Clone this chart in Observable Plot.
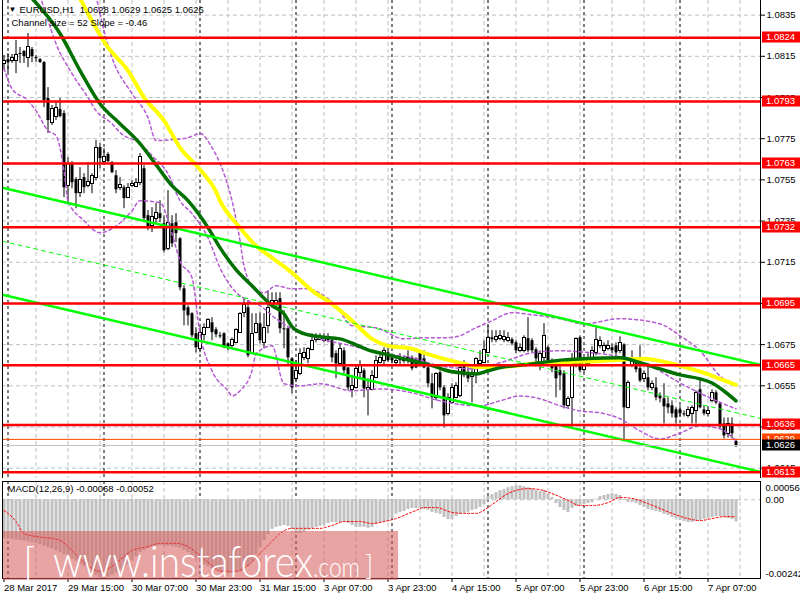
<!DOCTYPE html>
<html>
<head>
<meta charset="utf-8">
<script src="https://cdn.jsdelivr.net/npm/d3@7"></script>
<script src="https://cdn.jsdelivr.net/npm/@observablehq/plot@0.6"></script>
<style>
  html, body { margin: 0; padding: 0; background: #fff; }
  #chart { position: relative; width: 800px; height: 600px; overflow: hidden; font-family: "Liberation Sans", Arial, sans-serif; }
  #main, #macd, #brand { position: absolute; left: 0; }
  #main { top: 0; }
  #macd { top: 478px; }
  #brand { top: 0; pointer-events: none; }
</style>
</head>
<body>
<div id="chart">
  <div id="main"></div>
  <div id="macd"></div>
  <svg id="brand" width="800" height="600">
    <defs><clipPath id="brandClip"><rect x="3" y="531" width="395" height="49"></rect></clipPath></defs>
    <rect x="3" y="531" width="395" height="49" fill="rgb(214,88,88)" fill-opacity="0.55"></rect>
    <g clip-path="url(#brandClip)" fill="#fff" font-family="Lato, 'Open Sans', sans-serif" font-weight="300">
      <text x="23" y="578" font-size="42">[</text>
      <text x="53" y="577" font-size="44" textLength="260" lengthAdjust="spacingAndGlyphs">www.instaforex</text>
      <text x="313" y="577" font-size="27" textLength="47" lengthAdjust="spacingAndGlyphs">.com</text>
      <text x="365" y="575" font-size="28">]</text>
    </g>
  </svg>
</div>
<script>
// EURUSD H1 candles, 28 Mar 2017 23:00 to 7 Apr 2017 14:00 (bar 0 .. 183)
const candleOpen = [
1.08115,1.08134,1.08129,1.08129,1.08164,1.08173,1.08144,1.08183,1.08144,1.08134,
1.08120,1.07945,1.07828,1.07857,1.07891,1.07872,1.07522,1.07629,1.07551,1.07488,
1.07561,1.07522,1.07532,1.07561,1.07707,1.07639,1.07673,1.07634,1.07570,1.07512,
1.07512,1.07464,1.07522,1.07517,1.07536,1.07604,1.07376,1.07328,1.07362,1.07386,
1.07337,1.07216,1.07337,1.07342,1.07264,1.07021,1.06929,1.06900,1.06803,1.06730,
1.06798,1.06832,1.06856,1.06822,1.06793,1.06803,1.06754,1.06744,1.06759,1.06808,
1.06905,1.06929,1.06706,1.06808,1.06851,1.06759,1.06842,1.06944,1.06949,1.06973,
1.06827,1.06827,1.06681,1.06584,1.06608,1.06686,1.06681,1.06725,1.06774,1.06774,
1.06769,1.06788,1.06769,1.06706,1.06657,1.06720,1.06637,1.06531,1.06540,1.06613,
1.06623,1.06531,1.06531,1.06589,1.06662,1.06672,1.06710,1.06686,1.06662,1.06686,
1.06672,1.06672,1.06686,1.06681,1.06710,1.06681,1.06637,1.06560,1.06492,1.06613,
1.06540,1.06414,1.06467,1.06492,1.06501,1.06647,1.06613,1.06594,1.06608,1.06657,
1.06662,1.06710,1.06783,1.06774,1.06779,1.06774,1.06769,1.06774,1.06759,1.06720,
1.06720,1.06779,1.06769,1.06725,1.06647,1.06686,1.06735,1.06662,1.06657,1.06623,
1.06608,1.06453,1.06492,1.06657,1.06783,1.06628,1.06657,1.06681,1.06710,1.06744,
1.06720,1.06730,1.06735,1.06744,1.06720,1.06749,1.06443,1.06647,1.06657,1.06633,
1.06584,1.06589,1.06540,1.06540,1.06501,1.06487,1.06462,1.06453,1.06433,1.06433,
1.06414,1.06404,1.06414,1.06428,1.06531,1.06433,1.06414,1.06477,1.06516,1.06462,
1.06365,1.06317,1.06365,1.0628];
const candleHigh = [
1.08154,1.08163,1.08159,1.08227,1.08193,1.08178,1.08261,1.08193,1.08154,1.08139,
1.08125,1.07998,1.07911,1.07925,1.07945,1.07886,1.07658,1.07639,1.07561,1.07609,
1.07580,1.07634,1.07580,1.07741,1.07726,1.07702,1.07682,1.07639,1.07595,1.07561,
1.07522,1.07532,1.07546,1.07556,1.07678,1.07619,1.07401,1.07415,1.07435,1.07449,
1.07376,1.07498,1.07376,1.07386,1.07269,1.07036,1.06939,1.06905,1.06832,1.06832,
1.06851,1.06876,1.06881,1.06832,1.06808,1.06808,1.06759,1.06783,1.06827,1.06905,
1.06973,1.06963,1.06900,1.06900,1.06905,1.06900,1.07011,1.07002,1.07002,1.07002,
1.06915,1.06832,1.06686,1.06672,1.06730,1.06735,1.06735,1.06803,1.06803,1.06803,
1.06803,1.06803,1.06779,1.06720,1.06754,1.06735,1.06637,1.06599,1.06647,1.06672,
1.06633,1.06584,1.06623,1.06696,1.06706,1.06735,1.06735,1.06706,1.06686,1.06706,
1.06696,1.06720,1.06696,1.06686,1.06720,1.06720,1.06647,1.06608,1.06613,1.06623,
1.06550,1.06511,1.06560,1.06565,1.06647,1.06672,1.06647,1.06647,1.06686,1.06720,
1.06769,1.06842,1.06818,1.06818,1.06818,1.06818,1.06808,1.06783,1.06769,1.06754,
1.06793,1.06881,1.06779,1.06735,1.06720,1.06852,1.06744,1.06681,1.06672,1.06647,
1.06623,1.06497,1.06706,1.06783,1.06793,1.06681,1.06706,1.06740,1.06832,1.06788,
1.06759,1.06769,1.06754,1.06759,1.06788,1.06754,1.06574,1.06720,1.06672,1.06744,
1.06623,1.06657,1.06574,1.06589,1.06516,1.06560,1.06492,1.06477,1.06443,1.06453,
1.06428,1.06448,1.06453,1.06526,1.06589,1.06453,1.06448,1.06531,1.06526,1.06467,
1.06394,1.06394,1.06394,1.0629];
const candleLow = [
1.08081,1.08071,1.08115,1.08066,1.08115,1.08115,1.08095,1.08120,1.08120,1.08115,
1.07901,1.07775,1.07814,1.07838,1.07852,1.07464,1.07435,1.07507,1.07410,1.07464,
1.07483,1.07512,1.07483,1.07546,1.07604,1.07634,1.07634,1.07580,1.07483,1.07498,
1.07410,1.07459,1.07512,1.07512,1.07522,1.07342,1.07303,1.07294,1.07337,1.07342,
1.07196,1.07206,1.07221,1.07245,1.07011,1.06841,1.06841,1.06783,1.06710,1.06710,
1.06769,1.06827,1.06769,1.06783,1.06779,1.06730,1.06720,1.06735,1.06754,1.06808,
1.06881,1.06686,1.06706,1.06803,1.06754,1.06730,1.06803,1.06929,1.06929,1.06803,
1.06730,1.06647,1.06511,1.06565,1.06599,1.06672,1.06657,1.06720,1.06759,1.06769,
1.06759,1.06759,1.06662,1.06584,1.06647,1.06608,1.06526,1.06492,1.06535,1.06589,
1.06492,1.06404,1.06526,1.06584,1.06657,1.06647,1.06662,1.06657,1.06647,1.06647,
1.06657,1.06657,1.06623,1.06633,1.06647,1.06633,1.06540,1.06438,1.06477,1.06526,
1.06346,1.06404,1.06462,1.06487,1.06492,1.06589,1.06565,1.06467,1.06560,1.06657,
1.06657,1.06706,1.06759,1.06759,1.06769,1.06759,1.06759,1.06744,1.06706,1.06710,
1.06710,1.06710,1.06710,1.06647,1.06623,1.06657,1.06647,1.06613,1.06492,1.06526,
1.06438,1.06438,1.06341,1.06637,1.06613,1.06613,1.06642,1.06672,1.06696,1.06730,
1.06706,1.06720,1.06706,1.06696,1.06706,1.06278,1.06438,1.06638,1.06613,1.06565,
1.06565,1.06526,1.06526,1.06477,1.06467,1.06365,1.06414,1.06394,1.06365,1.06399,
1.06399,1.06394,1.06365,1.06365,1.06438,1.06404,1.06399,1.06467,1.06458,1.06341,
1.06292,1.06297,1.06292,1.0625];
const candleClose = [
1.08125,1.08120,1.08144,1.08154,1.08159,1.08149,1.08193,1.08149,1.08139,1.08120,
1.07935,1.07838,1.07896,1.07901,1.07857,1.07512,1.07629,1.07536,1.07483,1.07551,
1.07512,1.07541,1.07571,1.07707,1.07653,1.07663,1.07639,1.07585,1.07502,1.07527,
1.07459,1.07512,1.07532,1.07536,1.07663,1.07362,1.07318,1.07371,1.07391,1.07362,
1.07206,1.07342,1.07240,1.07289,1.07026,1.06914,1.06890,1.06793,1.06735,1.06808,
1.06832,1.06871,1.06808,1.06798,1.06788,1.06735,1.06735,1.06774,1.06822,1.06900,
1.06944,1.06696,1.06803,1.06851,1.06769,1.06832,1.06929,1.06963,1.06963,1.06827,
1.06822,1.06686,1.06540,1.06623,1.06706,1.06710,1.06730,1.06769,1.06783,1.06788,
1.06788,1.06769,1.06686,1.06657,1.06730,1.06623,1.06540,1.06550,1.06633,1.06647,
1.06535,1.06540,1.06599,1.06672,1.06686,1.06720,1.06672,1.06672,1.06672,1.06672,
1.06681,1.06686,1.06633,1.06637,1.06657,1.06637,1.06560,1.06492,1.06608,1.06540,
1.06404,1.06492,1.06540,1.06550,1.06637,1.06599,1.06584,1.06613,1.06681,1.06672,
1.06725,1.06783,1.06774,1.06788,1.06793,1.06788,1.06783,1.06754,1.06720,1.06735,
1.06783,1.06720,1.06720,1.06681,1.06706,1.06793,1.06657,1.06633,1.06584,1.06599,
1.06453,1.06487,1.06657,1.06779,1.06623,1.06662,1.06686,1.06720,1.06774,1.06769,
1.06744,1.06744,1.06720,1.06710,1.06759,1.06443,1.06565,1.06686,1.06628,1.06574,
1.06608,1.06540,1.06560,1.06492,1.06487,1.06448,1.06443,1.06414,1.06394,1.06414,
1.06409,1.06433,1.06443,1.06516,1.06443,1.06414,1.06428,1.06516,1.06467,1.06351,
1.06307,1.06365,1.06317,1.0626];

// Price axis ticks and horizontal levels
const priceTicks = [1.0835,1.0815,1.0795,1.0775,1.0755,1.0735,1.0715,1.0695,1.0675,1.0655,1.0635,1.0615];
const levelPrices = [1.0824,1.0793,1.0763,1.0732,1.0695,1.0665,1.0636,1.0613];
const askPrice = 1.0629;
const bidPrice = 1.0626;

// Time axis
const timeLabelBars = [0,16,32,48,64,80,96,112,128,144,160,176];
const timeLabels = ["28 Mar 2017","29 Mar 15:00","30 Mar 07:00","30 Mar 23:00","31 Mar 15:00","3 Apr 07:00",
                    "3 Apr 23:00","4 Apr 15:00","5 Apr 07:00","5 Apr 23:00","6 Apr 15:00","7 Apr 07:00"];
const gridBars = [8,16,24,32,40,48,56,64,72,80,88,96,104,112,120,128,136,144,152,160,168,176,184];
const dayStartBars = [1,25,49,73,97,121,145,169];

// Regression channel (size 52, slope -0.46), as end points
const channelBars = [-0.375, 189.125];
const channelUpper = [1.07512, 1.06652];
const channelMiddle = [1.07252, 1.06392];
const channelLower = [1.06992, 1.06132];

// Moving averages
const greenMaBars = [7,14,19,24,29,34,38,42,46,51,54,58,62,67,70,72,75,79,84,88,91,95,100,104,108,110,114,118,121,125,130,134,140,145,154,159,164,169,174,177,180,183];
const greenMaValues = [1.08431,1.08261,1.08081,1.07920,1.07823,1.07726,1.07624,1.07522,1.07449,1.07318,1.07221,1.07114,1.07036,1.06939,1.06900,1.06837,1.06803,1.06788,1.06778,1.06749,1.06725,1.06705,1.06681,1.06662,1.06642,1.06628,1.06613,1.06608,1.06623,1.06642,1.06652,1.06662,1.06676,1.06681,1.06686,1.06662,1.06632,1.06603,1.06584,1.06564,1.06525,1.06477];
const yellowMaBars = [19,26,31,35,40,44,49,53,54,59,63,67,72,77,82,87,92,96,102,105,110,115,118,124,132,149,160,164,169,175,179,183];
const yellowMaValues = [1.08431,1.08193,1.08081,1.07950,1.07838,1.07707,1.07600,1.07493,1.07449,1.07318,1.07230,1.07172,1.07099,1.07012,1.06948,1.06866,1.06778,1.06744,1.06730,1.06710,1.06681,1.06657,1.06642,1.06642,1.06657,1.06671,1.06681,1.06671,1.06647,1.06613,1.06584,1.06555];

// Bollinger bands
const bandUpperBars = [23,25,27,32,36,38,42,46,49,52,55,57,59,60,63,65,68,72,76,80,83,87,93,100,105,110,113,118,122,127,132,139,145,154,164,169,174,179,183];
const bandUpperValues = [1.08445,1.08275,1.08144,1.07969,1.07852,1.07741,1.07745,1.07755,1.07775,1.07707,1.07580,1.07449,1.07255,1.07133,1.07012,1.07002,1.07036,1.07021,1.07021,1.06987,1.06939,1.06842,1.06832,1.06778,1.06783,1.06783,1.06788,1.06832,1.06866,1.06905,1.06895,1.06876,1.06851,1.06876,1.06851,1.06793,1.06720,1.06598,1.06550];
const bandMiddleBars = [9,11,13,17,21,23,27,29,34,37,41,44,47,51,54,57,61,64,68,72,79,87,94,102,109,117,124,132,139,147,154,162,169,177,183];
const bandMiddleValues = [1.08445,1.08324,1.08212,1.08066,1.07950,1.07886,1.07823,1.07780,1.07726,1.07668,1.07580,1.07449,1.07386,1.07269,1.07123,1.07026,1.06963,1.06939,1.06876,1.06827,1.06778,1.06744,1.06710,1.06686,1.06647,1.06633,1.06662,1.06710,1.06720,1.06710,1.06691,1.06642,1.06564,1.06487,1.06438];
const bandLowerBars = [0,2,6,8,11,13,15,16,20,24,27,32,34,39,42,44,47,49,52,56,57,59,62,63,67,70,74,79,87,94,102,109,119,124,129,134,139,144,149,154,159,164,169,174,179,183];
const bandLowerValues = [1.08091,1.07993,1.07935,1.07886,1.07789,1.07765,1.07595,1.07449,1.07352,1.07293,1.07313,1.07400,1.07449,1.07439,1.07289,1.07157,1.07075,1.06803,1.06623,1.06526,1.06501,1.06526,1.06623,1.06705,1.06744,1.06560,1.06550,1.06560,1.06526,1.06535,1.06516,1.06477,1.06453,1.06477,1.06501,1.06487,1.06453,1.06428,1.06419,1.06390,1.06331,1.06292,1.06321,1.06356,1.06341,1.06283];

// MACD(12,26,9): histogram per bar and signal line
const macdHistogram = [
-0.00119,-0.00121,-0.00122,-0.00124,-0.00125,-0.00127,-0.00130,-0.00132,-0.00135,-0.00138,
-0.00143,-0.00147,-0.00151,-0.00157,-0.00163,-0.00169,-0.00173,-0.00182,-0.00189,-0.00199,
-0.00206,-0.00215,-0.00224,-0.00232,-0.00240,-0.00242,-0.00238,-0.00232,-0.00225,-0.00216,
-0.00209,-0.00199,-0.00187,-0.00174,-0.00162,-0.00156,-0.00150,-0.00144,-0.00142,-0.00140,
-0.00142,-0.00143,-0.00145,-0.00146,-0.00149,-0.00156,-0.00162,-0.00171,-0.00180,-0.00192,
-0.00200,-0.00206,-0.00212,-0.00218,-0.00221,-0.00224,-0.00227,-0.00227,-0.00224,-0.00221,
-0.00215,-0.00206,-0.00193,-0.00169,-0.00147,-0.00126,-0.00107,-0.00091,-0.00085,-0.00082,
-0.00079,-0.00082,-0.00091,-0.00104,-0.00104,-0.00101,-0.00094,-0.00088,-0.00085,-0.00082,
-0.00079,-0.00073,-0.00070,-0.00070,-0.00070,-0.00070,-0.00073,-0.00079,-0.00085,-0.00085,
-0.00085,-0.00088,-0.00085,-0.00076,-0.00070,-0.00070,-0.00067,-0.00058,-0.00045,-0.00039,
-0.00036,-0.00030,-0.00027,-0.00027,-0.00027,-0.00030,-0.00033,-0.00039,-0.00042,-0.00045,
-0.00055,-0.00061,-0.00061,-0.00052,-0.00045,-0.00042,-0.00039,-0.00033,-0.00030,-0.00024,
-0.00015,0.00010,0.00016,0.00022,0.00028,0.00031,0.00037,0.00040,0.00043,0.00043,
0.00040,0.00037,0.00034,0.00028,0.00025,0.00028,0.00019,0.00007,-0.00012,-0.00024,
-0.00033,-0.00039,-0.00027,-0.00021,-0.00018,-0.00015,-0.00012,-0.00009,0.00002,0.00010,
0.00013,0.00016,0.00019,0.00016,0.00013,-0.00002,-0.00008,-0.00008,-0.00012,-0.00018,
-0.00024,-0.00030,-0.00033,-0.00036,-0.00039,-0.00045,-0.00048,-0.00055,-0.00058,-0.00064,
-0.00067,-0.00070,-0.00070,-0.00067,-0.00064,-0.00061,-0.00058,-0.00055,-0.00052,-0.00052,
-0.00055,-0.00058,-0.00061,-0.00068];
const signalBars = [0,3,5,8,12,14,17,19,22,24,27,30,32,36,39,43,46,49,52,54,58,61,64,67,69,72,76,79,82,85,89,92,95,98,101,103,105,108,112,115,118,121,123,126,131,134,137,141,144,147,151,154,157,161,164,167,171,174,177,180,183];
const signalValues = [-0.00033,-0.00067,-0.00104,-0.00113,-0.00119,-0.00125,-0.00156,-0.00181,-0.00211,-0.00220,-0.00205,-0.00174,-0.00156,-0.00144,-0.00134,-0.00134,-0.00144,-0.00171,-0.00202,-0.00220,-0.00220,-0.00202,-0.00165,-0.00128,-0.00104,-0.00088,-0.00088,-0.00088,-0.00079,-0.00067,-0.00067,-0.00073,-0.00067,-0.00058,-0.00043,-0.00033,-0.00024,-0.00024,-0.00039,-0.00042,-0.00042,-0.00024,-0.00006,0.00019,0.00034,0.00031,0.00019,-0.00002,-0.00018,-0.00018,-0.00009,0.00007,0.00004,-0.00012,-0.00027,-0.00042,-0.00058,-0.00064,-0.00058,-0.00052,-0.00052];
const macdTicks = [0.00056, 0, -0.00242];

// ---- derived tables ----
const candles = candleOpen.map((o, i) => ({i, o, h: candleHigh[i], l: candleLow[i], c: candleClose[i]}));
const bulls = candles.filter(d => d.c >= d.o);
const bears = candles.filter(d => d.c < d.o);
const pairs = (xs, ys) => xs.map((x, k) => ({x, y: ys[k]}));
const bandLine = (xs, ys) => Plot.line(pairs(xs, ys), {x: "x", y: "y", stroke: "#b45ad2", strokeDasharray: "3,3", curve: "monotone-x", clip: true});

const xDomain = [-0.375, 189.125];
const font = "'Liberation Sans', Arial, sans-serif";
const fmt4 = d3.format(".4f");

const main = Plot.plot({
  width: 800, height: 478,
  marginLeft: 2, marginRight: 40, marginTop: 0, marginBottom: 0,
  x: {domain: xDomain, axis: null},
  y: {domain: [1.06100, 1.08421], axis: null},
  style: {fontFamily: font, fontSize: "9.5px", color: "#000", background: "transparent"},
  marks: [
    Plot.ruleY(priceTicks, {stroke: "#c0c0c0", strokeDasharray: "4,3"}),
    Plot.ruleX(gridBars, {stroke: "#c0c0c0", strokeDasharray: "4,3"}),
    Plot.ruleX(dayStartBars, {stroke: "#000", strokeDasharray: "3,3"}),
    // candles
    Plot.ruleX(candles, {x: "i", y1: "l", y2: "h", stroke: "#000", strokeWidth: 1}),
    Plot.ruleX(bears, {x: "i", y1: "o", y2: "c", stroke: "#000", strokeWidth: 3}),
    Plot.rect(bulls, {x1: d => d.i - 0.375, x2: d => d.i + 0.375, y1: "o", y2: "c", fill: "#fff", stroke: "#000", strokeWidth: 1, shapeRendering: "crispEdges"}),
    // Bollinger bands
    bandLine(bandUpperBars, bandUpperValues),
    bandLine(bandMiddleBars, bandMiddleValues),
    bandLine(bandLowerBars, bandLowerValues),
    // moving averages
    Plot.line(pairs(yellowMaBars, yellowMaValues), {x: "x", y: "y", stroke: "#ffff00", strokeWidth: 4, curve: "monotone-x", clip: true}),
    Plot.line(pairs(greenMaBars, greenMaValues), {x: "x", y: "y", stroke: "#007000", strokeWidth: 3.5, curve: "monotone-x", clip: true}),
    // channel
    Plot.line(pairs(channelBars, channelMiddle), {x: "x", y: "y", stroke: "#00ff00", strokeWidth: 1, strokeDasharray: "4,4", clip: true}),
    Plot.line(pairs(channelBars, channelUpper), {x: "x", y: "y", stroke: "#00ff00", strokeWidth: 2.5, clip: true}),
    Plot.line(pairs(channelBars, channelLower), {x: "x", y: "y", stroke: "#00ff00", strokeWidth: 2.5, clip: true}),
    // horizontal levels
    Plot.ruleY(levelPrices, {stroke: "#ff0000", strokeWidth: 2.5}),
    Plot.ruleY([bidPrice], {stroke: "#c0c0c0", strokeWidth: 1}),
    Plot.ruleY([askPrice], {stroke: "#ff4500", strokeWidth: 1}),
    // panel borders and price axis
    Plot.ruleX(xDomain, {stroke: "#000"}),
    Plot.ruleY([1.06100], {stroke: "#000"}),
    Plot.axisY({anchor: "right", ticks: priceTicks, tickFormat: fmt4, tickSize: 4, tickPadding: 2, fontSize: 9.5, label: null}),
    // header
    Plot.text(["▼"], {frameAnchor: "top-left", dx: 6, dy: 6, lineAnchor: "top", textAnchor: "start", fontSize: 8}),
    Plot.text(["EURUSD,H1  1.0628 1.0629 1.0625 1.0626"], {frameAnchor: "top-left", dx: 17, dy: 6, lineAnchor: "top", textAnchor: "start"}),
    Plot.text(["Channel size = 52 Slope = -0.46"], {frameAnchor: "top-left", dx: 9, dy: 19, lineAnchor: "top", textAnchor: "start"})
  ]
});

// price tags on the right axis
(function tags() {
  const ys = main.scale("y");
  const g = d3.select(main).append("g")
    .attr("font-family", font).attr("font-size", 9.5).attr("text-anchor", "start");
  const tag = (v, fill, color) => {
    const y = Math.round(ys.apply(v));
    g.append("rect").attr("x", 762).attr("y", y - 5.5).attr("width", 38).attr("height", 11).attr("fill", fill);
    g.append("text").attr("x", 766).attr("y", y).attr("dy", "0.35em").attr("fill", color).text(fmt4(v));
  };
  levelPrices.forEach(v => tag(v, "#ff0000", "#fff"));
  tag(askPrice, "#ff4500", "#fff");
  tag(bidPrice, "#000", "#fff");
})();
document.getElementById("main").appendChild(main);

const macd = Plot.plot({
  width: 800, height: 122,
  marginLeft: 2, marginRight: 40, marginTop: 3, marginBottom: 22,
  x: {domain: xDomain, axis: null},
  y: {domain: [-0.00242, 0.00056], axis: null},
  style: {fontFamily: font, fontSize: "9.5px", color: "#000", background: "transparent"},
  marks: [
    Plot.ruleX(gridBars, {stroke: "#c0c0c0", strokeDasharray: "4,3"}),
    Plot.ruleX(dayStartBars, {stroke: "#000", strokeDasharray: "3,3"}),
    Plot.ruleY([0], {stroke: "#c0c0c0", strokeDasharray: "4,3"}),
    Plot.ruleX(macdHistogram, {x: (d, i) => i, y1: 0, y2: d => d, stroke: "#c0c0c0", strokeWidth: 3}),
    Plot.line(pairs(signalBars, signalValues), {x: "x", y: "y", stroke: "#ff0000", strokeWidth: 1, strokeDasharray: "2,2", curve: "monotone-x"}),
    Plot.frame({stroke: "#000"}),
    Plot.axisX({anchor: "bottom", ticks: timeLabelBars, tickFormat: d => timeLabels[timeLabelBars.indexOf(d)], textAnchor: "start", tickSize: 4, tickPadding: 2, fontSize: 9.5, label: null}),
    Plot.text([macdTicks[0]], {y: d => d, frameAnchor: "right", dx: 5, dy: 6, textAnchor: "start", text: d => d3.format(".5f")(d)}),
    Plot.text([macdTicks[1]], {y: d => d, frameAnchor: "right", dx: 5, textAnchor: "start", text: d => d3.format(".2f")(d)}),
    Plot.text([macdTicks[2]], {y: d => d, frameAnchor: "right", dx: 5, dy: -5, textAnchor: "start", text: d => d3.format(".5f")(d).replace("−", "-")}),
    Plot.text(["MACD(12,26,9) -0.00068 -0.00052"], {frameAnchor: "top-left", dx: 5, dy: 4, lineAnchor: "top", textAnchor: "start"})
  ]
});
document.getElementById("macd").appendChild(macd);
</script>
</body>
</html>
